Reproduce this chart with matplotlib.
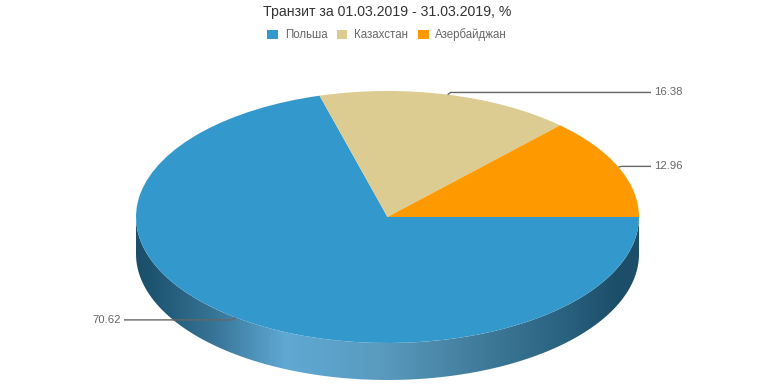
"""
Transit share pie chart, drawn as a tilted disc with a shaded side wall.
"""

import numpy as np
import matplotlib
matplotlib.use("Agg")
import matplotlib.pyplot as plt
from matplotlib.colors import LinearSegmentedColormap
from matplotlib.patches import Patch, Polygon

plt.rcParams['font.family'] = ['Liberation Sans', 'DejaVu Sans']

# Chart data
title = "Транзит за 01.03.2019 - 31.03.2019, %"
countries = ["Польша", "Казахстан", "Азербайджан"]
shares = [70.62, 16.38, 12.96]
colors = ["#3398cc", "#dccc92", "#ff9900"]
label_texts = ["70.62", "16.38", "12.96"]

# Wall shading, left to right across the disc
wall_stops = [0.0, 0.03, 0.147, 0.296, 0.485, 0.66, 0.84, 0.96, 1.0]
wall_colors = ["#1c4e69", "#1d5470", "#357294", "#5fa9d4", "#5a9bbf",
               "#447f9f", "#2b6482", "#1c4e69", "#1c4e69"]

WIDTH, HEIGHT = 774, 387
CX, CY = 387.5, 217    # disc centre in pixels, y measured from the top
RX, RY = 251.5, 126    # disc radii in pixels
DEPTH = 37 / RY        # wall height in disc units

fig = plt.figure(figsize=(WIDTH / 100, HEIGHT / 100), dpi=100)
ax = fig.add_axes([0, 0, 1, 1])

# The disc itself, squashed by giving the y axis half the scale of x
ax.pie(shares, colors=colors, startangle=0, counterclock=False, radius=1,
       wedgeprops={"linewidth": 0, "zorder": 3})
ax.set_aspect("auto")
ax.axis("off")

# Side wall: gradient clipped to the lower half of the disc pushed downwards
t = np.linspace(np.pi, 2 * np.pi, 200)
wall_xy = np.vstack([
    np.column_stack([np.cos(t), np.sin(t) - DEPTH]),
    np.column_stack([np.cos(t[::-1]), np.sin(t[::-1])]),
])
wall = Polygon(wall_xy, closed=True, facecolor="none", edgecolor="none",
               transform=ax.transData)
ax.add_patch(wall)
cmap = LinearSegmentedColormap.from_list("wall", list(zip(wall_stops, wall_colors)))
img = ax.imshow(np.linspace(0, 1, 512).reshape(1, -1), cmap=cmap, aspect="auto",
                extent=(-1, 1, -1 - DEPTH, 0), zorder=2)
img.set_clip_path(wall)
ax.set_xlim(-CX / RX, (WIDTH - CX) / RX)
ax.set_ylim((CY - HEIGHT) / RY, CY / RY)

# Value labels with leader lines from the middle of each slice
edges = np.cumsum([0] + shares) / np.sum(shares) * 2 * np.pi
label_x = [124, 651, 651]      # end of the leader line, pixels
kink_dy = [2.5, 2.2, 0.7]      # small step of the leader at the rim, pixels
for i, text in enumerate(label_texts):
    mid = (edges[i] + edges[i + 1]) / 2
    px, py = np.cos(mid), -np.sin(mid)
    side = 1 if px > 0 else -1
    y_end = py + np.sign(py) * kink_dy[i] / RY
    x_end = (label_x[i] - CX) / RX
    kink = px + side * 3 / RX
    ax.plot([px, kink, x_end], [py, y_end, y_end], color="#666666", lw=1.0,
            zorder=5, solid_capstyle="butt")
    ax.text(x_end + side * 3 / RX, y_end, text, color="#666666",
            fontsize=8.1, va="center", ha="left" if side > 0 else "right", zorder=6)

fig.text(0.5, 1 - 12 / HEIGHT, title, color="#333333", fontsize=10.2,
         ha="center", va="center")

handles = [Patch(facecolor=c, edgecolor="none", label=n) for c, n in zip(colors, countries)]
fig.legend(handles=handles, loc="center", bbox_to_anchor=(0.5, 1 - 35 / HEIGHT), ncol=3,
           frameon=False, fontsize=8.3, labelcolor="#666666", handlelength=0.95,
           handleheight=0.95, handletextpad=0.6, columnspacing=0.8)

fig.savefig("out.png", dpi=100)
